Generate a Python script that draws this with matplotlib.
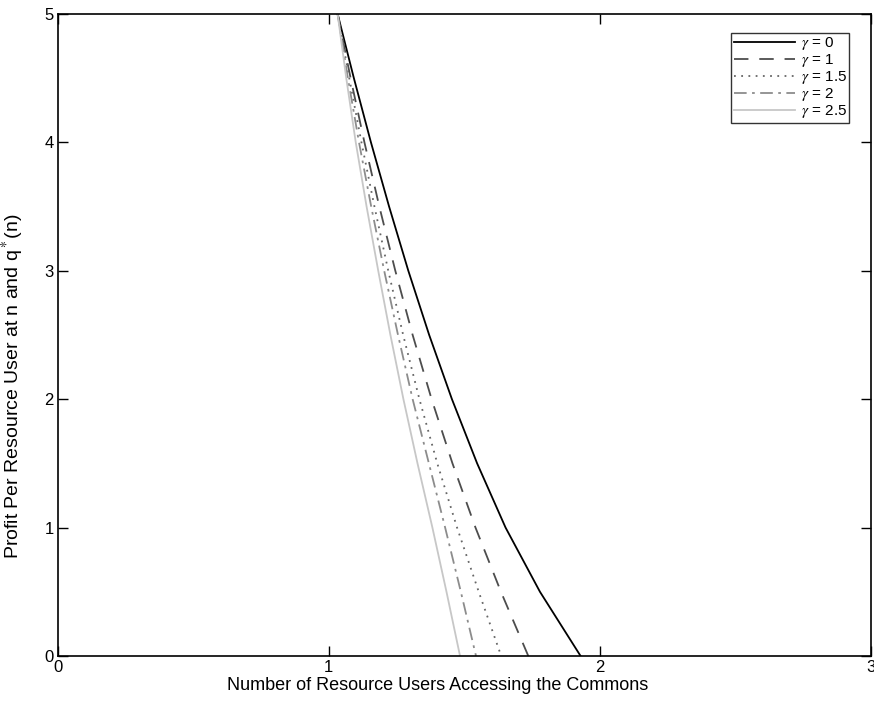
import matplotlib
matplotlib.use("Agg")
import matplotlib.pyplot as plt

plt.rcParams['font.family'] = ['Liberation Sans', 'DejaVu Sans']
plt.rcParams['mathtext.fontset'] = 'stix'

profit = [5, 4.5, 4, 3.5, 3, 2.5, 2, 1.5, 1, 0.5, 0]
users_g0 = [1.033, 1.093, 1.156, 1.223, 1.294, 1.371, 1.455, 1.548, 1.653, 1.780, 1.930]
users_g1 = [1.033, 1.081, 1.132, 1.187, 1.246, 1.310, 1.380, 1.457, 1.542, 1.636, 1.737]
users_g15 = [1.033, 1.076, 1.121, 1.169, 1.220, 1.275, 1.335, 1.401, 1.474, 1.554, 1.637]
users_g2 = [1.033, 1.071, 1.112, 1.157, 1.205, 1.256, 1.310, 1.370, 1.430, 1.488, 1.544]
users_g25 = [1.033, 1.065, 1.100, 1.140, 1.183, 1.228, 1.276, 1.328, 1.383, 1.435, 1.485]

fig = plt.figure(figsize=(8.74, 7.02), dpi=100)
ax = fig.add_axes([0.066, 0.0655, 0.93, 0.915])

ax.plot(users_g0, profit, color='black', lw=1.3, label=r'$\gamma$ = 0')
ax.plot(users_g1, profit, color='0.3', lw=1.3, ls=(0, (8, 6)), label=r'$\gamma$ = 1')
ax.plot(users_g15, profit, color='0.4', lw=1.3, ls=(0, (1, 3)), label=r'$\gamma$ = 1.5')
ax.plot(users_g2, profit, color='0.55', lw=1.3, ls=(0, (7, 3, 1.5, 3)), label=r'$\gamma$ = 2')
ax.plot(users_g25, profit, color='0.78', lw=1.3, label=r'$\gamma$ = 2.5')

ax.set_xlim(0, 3)
ax.set_ylim(0, 5)
ax.set_xticks([0, 1, 2, 3])
ax.set_yticks([0, 1, 2, 3, 4, 5])
ax.tick_params(direction='in', top=True, right=True, labelsize=12, length=7, width=1, pad=3)
for s in ax.spines.values():
    s.set_linewidth(1.2)

ax.set_xlabel('Number of Resource Users Accessing the Commons', fontsize=13)
ax.xaxis.set_label_coords(0.467, -0.033)
ax.set_ylabel(r'Profit Per Resource User at n and q$^*$(n)', fontsize=14)
ax.yaxis.set_label_coords(-0.039, 0.42)

leg = ax.legend(loc='upper right', prop={'size': 11}, frameon=True, fancybox=False,
                edgecolor='black', handlelength=4.0, labelspacing=0.0,
                borderpad=0.15, handletextpad=0.4, borderaxespad=0,
                bbox_to_anchor=(0.974, 0.970))
leg.get_frame().set_linewidth(1.0)

fig.savefig('out.png', dpi=100)
